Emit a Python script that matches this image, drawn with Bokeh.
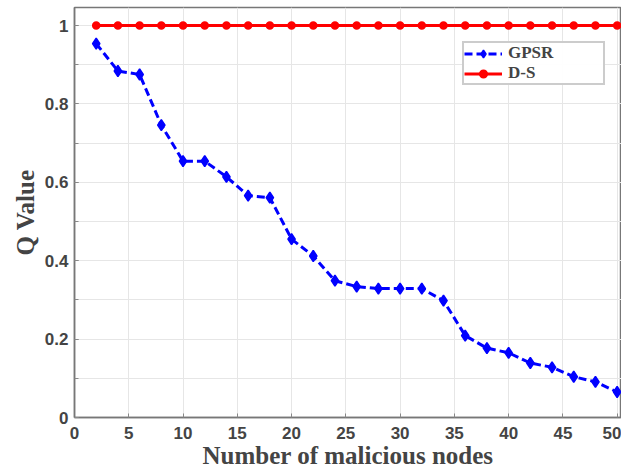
from bokeh.plotting import figure
from bokeh.models import SingleIntervalTicker, Legend, LegendItem, ColumnDataSource, Range1d
from bokeh.embed import file_html
from bokeh.resources import INLINE

nodes = [2, 4, 6, 8, 10, 12, 14, 16, 18, 20, 22, 24, 26, 28, 30, 32, 34, 36, 38, 40, 42, 44, 46, 48, 50]
gpsr = [0.954, 0.884, 0.875, 0.746, 0.654, 0.654, 0.614, 0.566, 0.561, 0.455, 0.412, 0.349, 0.334,
        0.329, 0.329, 0.329, 0.298, 0.209, 0.177, 0.165, 0.139, 0.128, 0.104, 0.091, 0.065]
ds = [1.0] * len(nodes)

x_label = "Number of malicious nodes"
y_label = "Q Value"
series_names = ["GPSR", "D-S"]

src = ColumnDataSource(dict(x=nodes, gpsr=gpsr, ds=ds))

p = figure(width=621, height=471, output_backend="svg", toolbar_location=None,
           x_range=Range1d(0, 50.4), y_range=Range1d(0, 1.046),
           min_border_left=74, min_border_right=0, min_border_top=7, min_border_bottom=54)

p.background_fill_color = "white"
p.outline_line_color = "#777777"
p.outline_line_width = 1.5

p.xaxis.ticker = SingleIntervalTicker(interval=5, num_minor_ticks=0)
p.yaxis.ticker = SingleIntervalTicker(interval=0.2, num_minor_ticks=2)

for ax in (p.xaxis[0], p.yaxis[0]):
    ax.axis_line_color = "#777777"
    ax.axis_line_width = 1.5
    ax.major_tick_in = 4
    ax.major_tick_out = 0
    ax.minor_tick_in = 4
    ax.minor_tick_out = 0
    ax.major_tick_line_color = "#888888"
    ax.minor_tick_line_color = "#888888"
    ax.major_label_text_font = "Liberation Sans"
    ax.major_label_text_font_style = "bold"
    ax.major_label_text_font_size = "17px"
    ax.major_label_text_color = "#444444"
    ax.axis_label_text_font = "Liberation Serif"
    ax.axis_label_text_font_style = "bold"
    ax.axis_label_text_font_size = "25px"
    ax.axis_label_text_color = "#444444"

p.xaxis.axis_label = x_label
p.yaxis.axis_label = y_label
p.xaxis.major_label_standoff = 9
p.xaxis.axis_label_standoff = 0
p.yaxis.major_label_standoff = 6
p.yaxis.axis_label_standoff = 3

p.xgrid.grid_line_color = "#e6e6e6"
p.ygrid.grid_line_color = "#e6e6e6"
p.ygrid.minor_grid_line_color = "#e6e6e6"

r_gpsr_line = p.line("x", "gpsr", source=src, line_color="#0000ff", line_width=3, line_dash="8 4")
r_gpsr_pts = p.scatter("x", "gpsr", source=src, marker="diamond", size=11,
                       fill_color="#0000ff", line_color="#0000ff", line_width=1.5)
r_ds_line = p.line("x", "ds", source=src, line_color="#ff0000", line_width=3)
r_ds_pts = p.scatter("x", "ds", source=src, marker="circle", size=7,
                     fill_color="#ff0000", line_color="#ff0000", line_width=1.5)

legend = Legend(items=[LegendItem(label=series_names[0], renderers=[r_gpsr_line, r_gpsr_pts]),
                       LegendItem(label=series_names[1], renderers=[r_ds_line, r_ds_pts])],
                location=(388, 332))
legend.label_text_font = "Liberation Serif"
legend.label_text_font_style = "bold"
legend.label_text_font_size = "17px"
legend.label_text_color = "#444444"
legend.border_line_color = "#999999"
legend.border_line_width = 2
legend.padding = 0
legend.spacing = 0
legend.margin = 0
legend.glyph_width = 38
legend.glyph_height = 19
legend.label_height = 19
legend.label_width = 95
legend.label_standoff = 6
p.add_layout(legend)

open("out.html", "w").write(file_html(p, INLINE))
